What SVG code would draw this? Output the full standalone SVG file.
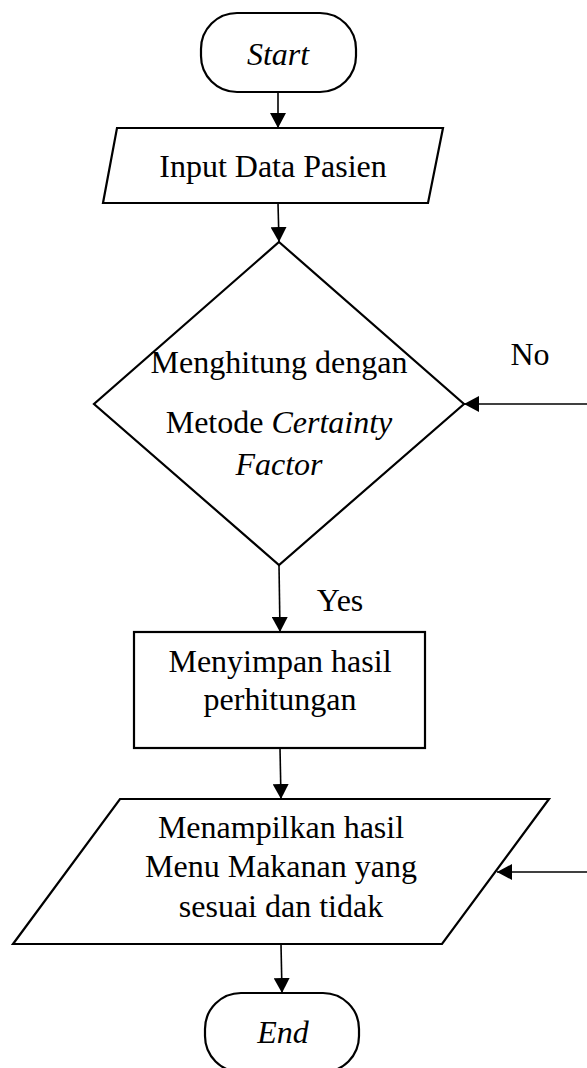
<svg xmlns="http://www.w3.org/2000/svg" width="587" height="1068" viewBox="0 0 587 1068">
<defs>
<marker id="arr" markerWidth="15" markerHeight="16" refX="15" refY="8" orient="auto" markerUnits="userSpaceOnUse">
<path d="M0,0 L15,8 L0,16 Z" fill="#000"/>
</marker>
<style>
.s{fill:#fff;stroke:#000;stroke-width:2.2}
.t{font-family:"Liberation Serif","Times New Roman",serif;font-size:32px;fill:#000;text-anchor:middle}
.i{font-style:italic}
.c{fill:none;stroke:#000;stroke-width:1.6}
</style>
</defs>
<rect width="587" height="1068" fill="#fff"/>
<g id="connectors">
<line class="c" x1="278" y1="92" x2="278" y2="128" marker-end="url(#arr)"/>
<line class="c" x1="278" y1="203" x2="279" y2="242" marker-end="url(#arr)"/>
<line class="c" x1="587" y1="404" x2="464" y2="404" marker-end="url(#arr)"/>
<line class="c" x1="279" y1="565" x2="280" y2="632" marker-end="url(#arr)"/>
<line class="c" x1="280" y1="748" x2="281" y2="799" marker-end="url(#arr)"/>
<line class="c" x1="587" y1="872" x2="497" y2="872" marker-end="url(#arr)"/>
<line class="c" x1="281" y1="944" x2="282" y2="993" marker-end="url(#arr)"/>
<text class="t" x="530" y="365">No</text>
<text class="t" x="340" y="611">Yes</text>
</g>
<g id="start">
<rect class="s" x="201" y="13" width="155" height="79" rx="36" ry="36"/>
<text class="t i" x="278" y="65">Start</text>
</g>
<g id="input">
<polygon class="s" points="117,128 443,128 428,203 103,203"/>
<text class="t" x="273" y="177">Input Data Pasien</text>
</g>
<g id="decision">
<polygon class="s" points="279,242 464,404 279,565 94,404"/>
<text class="t" x="279" y="373">Menghitung dengan</text>
<text class="t" x="279" y="433">Metode <tspan class="i">Certainty</tspan></text>
<text class="t i" x="279" y="475">Factor</text>
</g>
<g id="save">
<rect class="s" x="134" y="632" width="291" height="116"/>
<text class="t" x="280" y="672">Menyimpan hasil</text>
<text class="t" x="280" y="710">perhitungan</text>
</g>
<g id="output">
<polygon class="s" points="120,799 549,799 442,944 13,944"/>
<text class="t" x="281" y="838">Menampilkan hasil</text>
<text class="t" x="281" y="877">Menu Makanan yang</text>
<text class="t" x="281" y="917">sesuai dan tidak</text>
</g>
<g id="end">
<rect class="s" x="205" y="993" width="154" height="79" rx="36" ry="36"/>
<text class="t i" x="283" y="1043">End</text>
</g>
</svg>
